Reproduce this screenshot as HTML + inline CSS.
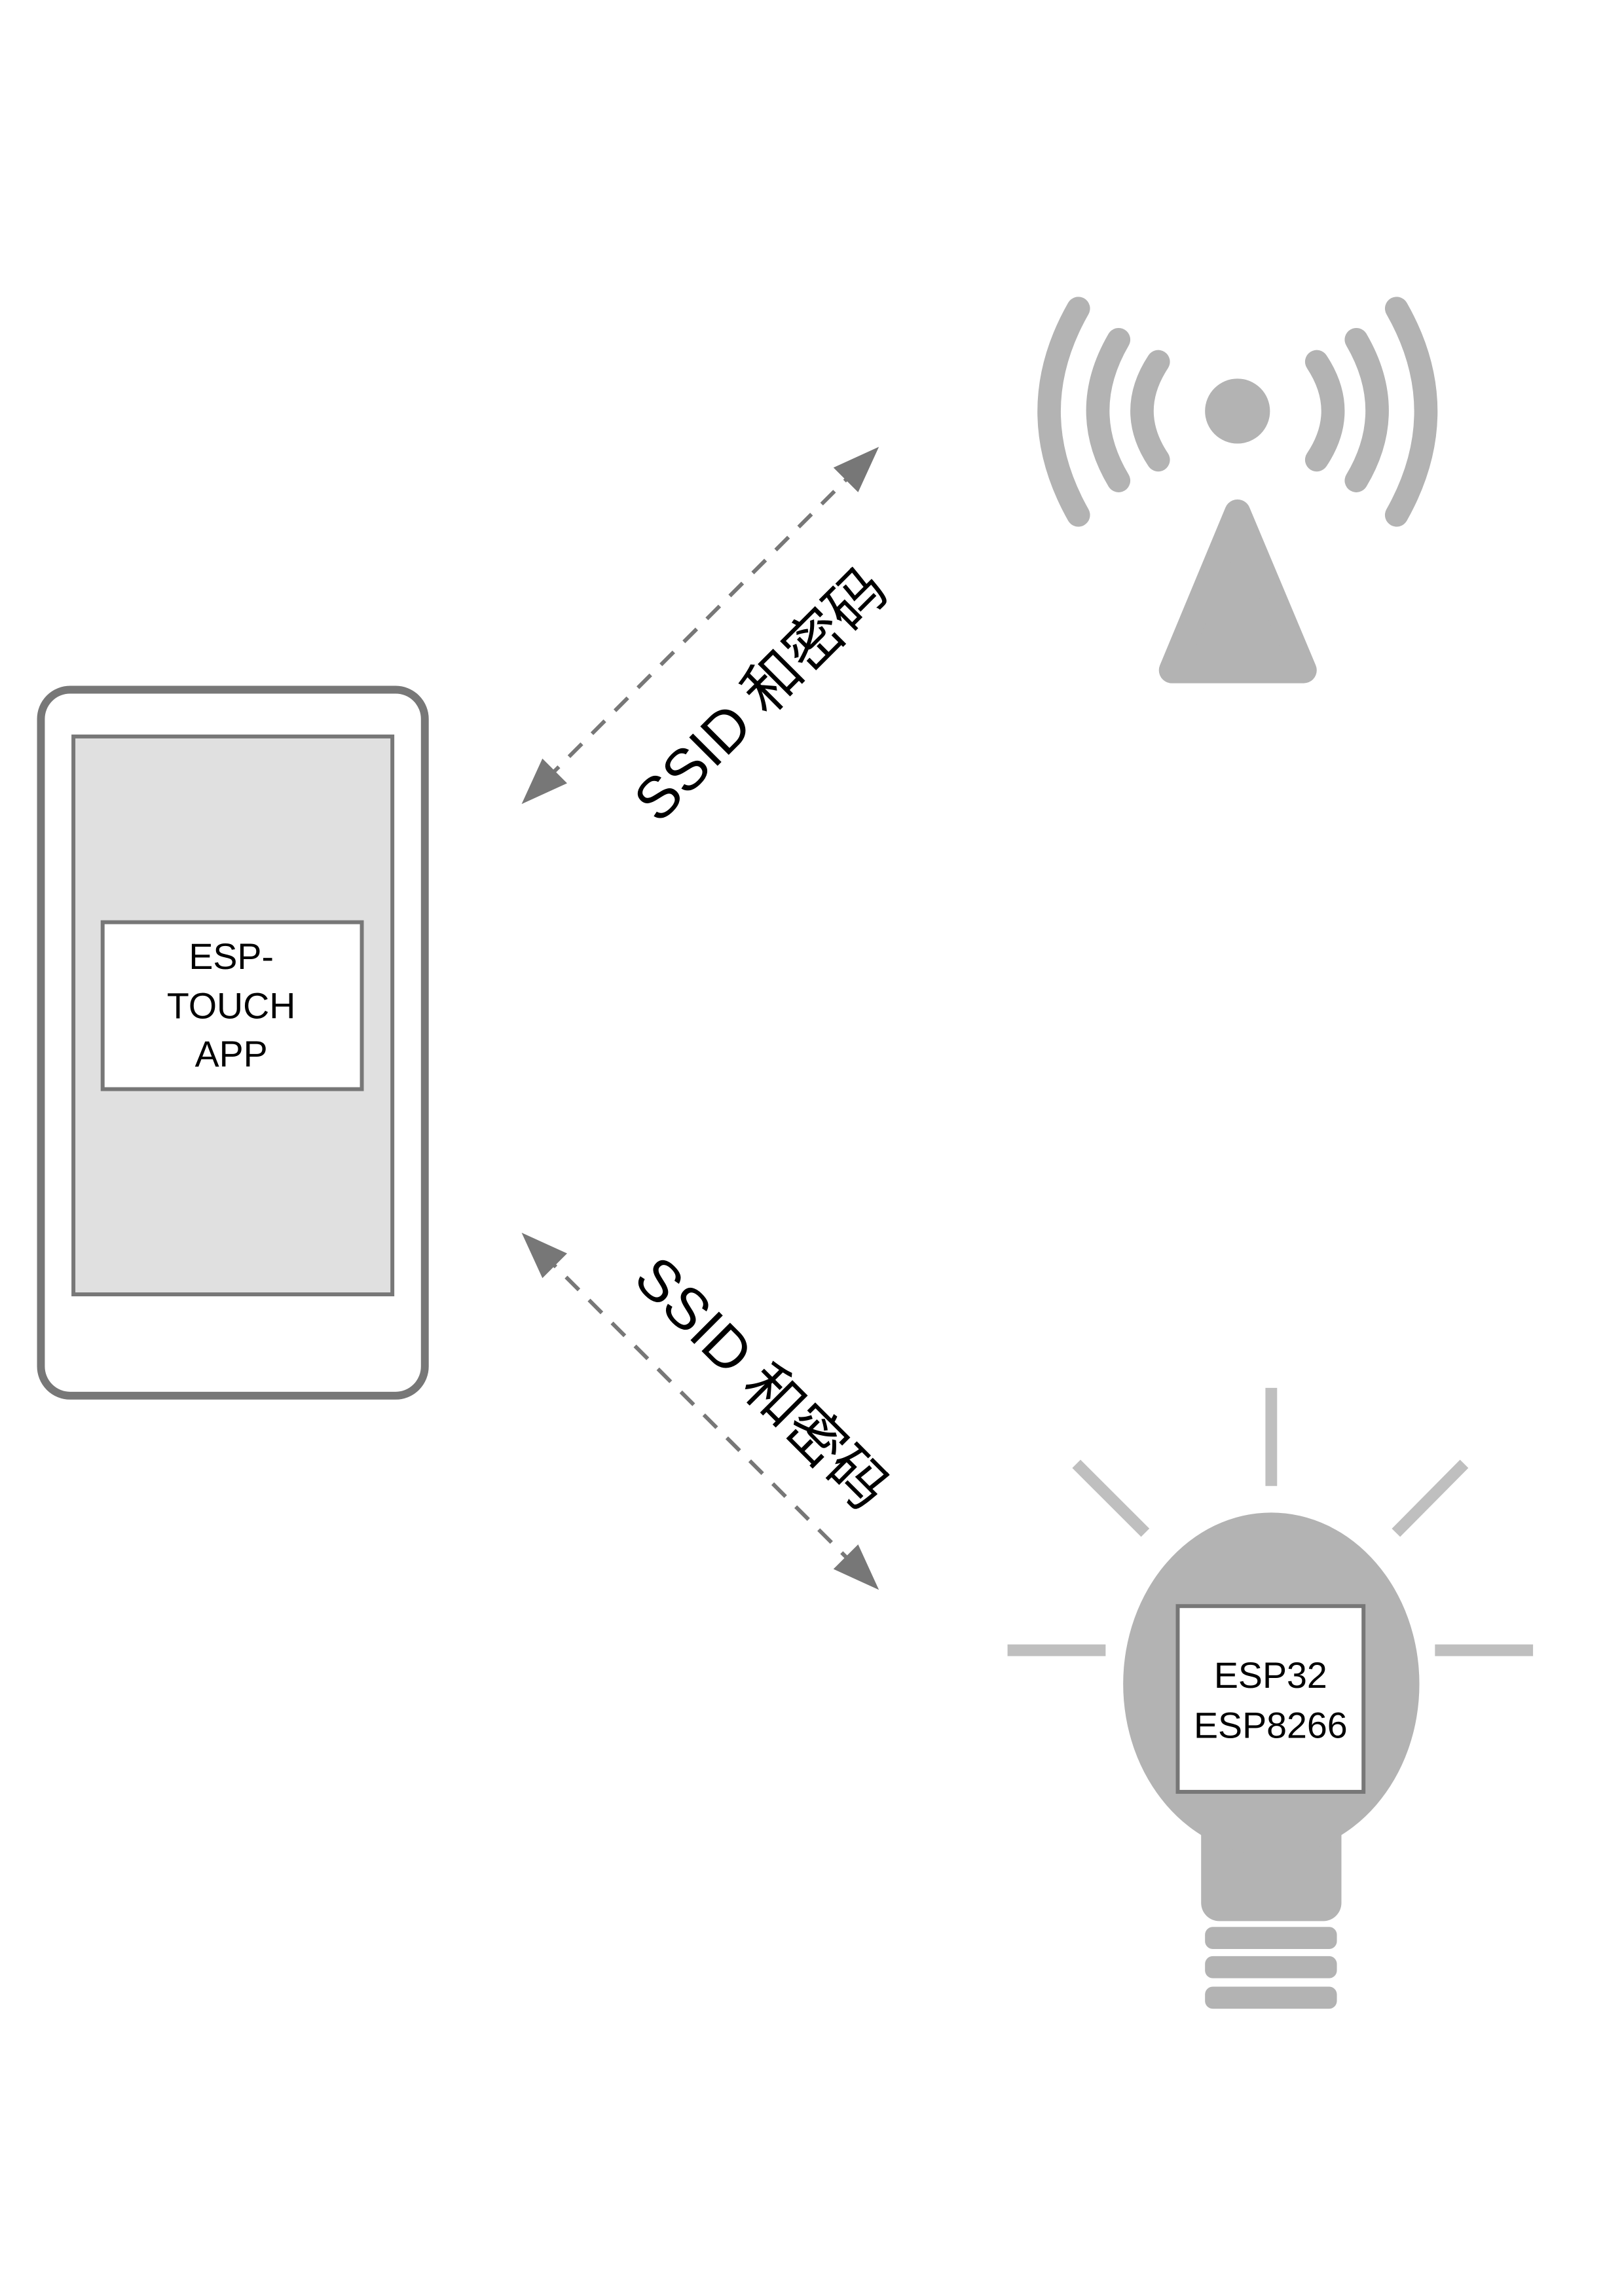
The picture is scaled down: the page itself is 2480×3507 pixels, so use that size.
<!DOCTYPE html>
<html><head><meta charset="utf-8"><style>
html,body{margin:0;padding:0;background:#fff;}
svg{display:block;}
text{font-family:"Liberation Sans","Noto Sans CJK SC",sans-serif;}
</style></head><body>
<svg width="2480" height="3507" viewBox="0 0 2480 3507" xmlns="http://www.w3.org/2000/svg">
<g transform="scale(0.992)">
<!-- phone -->
<rect x="63" y="1062" width="591" height="1087" rx="45" fill="#fff" stroke="#777" stroke-width="12"/>
<rect x="113" y="1134" width="491" height="859" fill="#e0e0e0" stroke="#777" stroke-width="6"/>
<rect x="158" y="1420" width="399" height="257" fill="#fff" stroke="#777" stroke-width="6"/>
<g font-size="56" text-anchor="middle" fill="#000">
<text x="356" y="1492">ESP-</text>
<text x="356" y="1568">TOUCH</text>
<text x="356" y="1642">APP</text>
</g>
<!-- wifi -->
<g fill="none" stroke="#b3b3b3" stroke-width="36" stroke-linecap="round">
<path d="M1783 557 Q1733 633 1783 708"/>
<path d="M1722 523 Q1658 633 1722 740"/>
<path d="M1660 475 Q1570 633 1660 793"/>
<path d="M2027 557 Q2077 633 2027 708"/>
<path d="M2088 523 Q2152 633 2088 740"/>
<path d="M2150 475 Q2240 633 2150 793"/>
</g>
<circle cx="1905" cy="633" r="50" fill="#b3b3b3"/>
<path d="M1905 789 L2007 1032 L1804 1032 Z" fill="#b3b3b3" stroke="#b3b3b3" stroke-width="40" stroke-linejoin="round"/>
<!-- arrows -->
<g stroke="#777" stroke-width="6" stroke-dasharray="28 22" fill="none">
<line x1="1320" y1="721" x2="836" y2="1205"/>
<line x1="836" y1="1931" x2="1320" y2="2415"/>
</g>
<g fill="#777">
<polygon points="1353,688 1283,720 1321,758"/>
<polygon points="803,1238 873,1206 835,1168"/>
<polygon points="803,1898 835,1968 873,1930"/>
<polygon points="1353,2448 1321,2378 1283,2416"/>
</g>
<text x="1172" y="1100" font-size="90" text-anchor="middle" transform="rotate(-45 1172 1071)">SSID 和密码</text>
<text x="1172" y="2160" font-size="90" text-anchor="middle" transform="rotate(45 1172 2130)">SSID 和密码</text>
<!-- bulb -->
<g stroke="#bfbfbf" stroke-width="18">
<line x1="1957" y1="2137" x2="1957" y2="2288"/>
<line x1="1657" y1="2254" x2="1763" y2="2360"/>
<line x1="2254" y1="2254" x2="2149" y2="2360"/>
<line x1="1551" y1="2541" x2="1702" y2="2541"/>
<line x1="2209" y1="2541" x2="2360" y2="2541"/>
</g>
<rect x="1849" y="2720" width="216" height="238" rx="28" fill="#b3b3b3"/>
<ellipse cx="1957" cy="2593" rx="228" ry="264" fill="#b3b3b3"/>
<rect x="1855" y="2967" width="203" height="34" rx="12" fill="#b3b3b3"/>
<rect x="1855" y="3012" width="203" height="34" rx="12" fill="#b3b3b3"/>
<rect x="1855" y="3059" width="203" height="34" rx="12" fill="#b3b3b3"/>
<rect x="1813" y="2473" width="286" height="286" fill="#fff" stroke="#777" stroke-width="6"/>
<g font-size="56" text-anchor="middle" fill="#000">
<text x="1956" y="2599">ESP32</text>
<text x="1956" y="2676">ESP8266</text>
</g>
</g>
</svg>
</body></html>
